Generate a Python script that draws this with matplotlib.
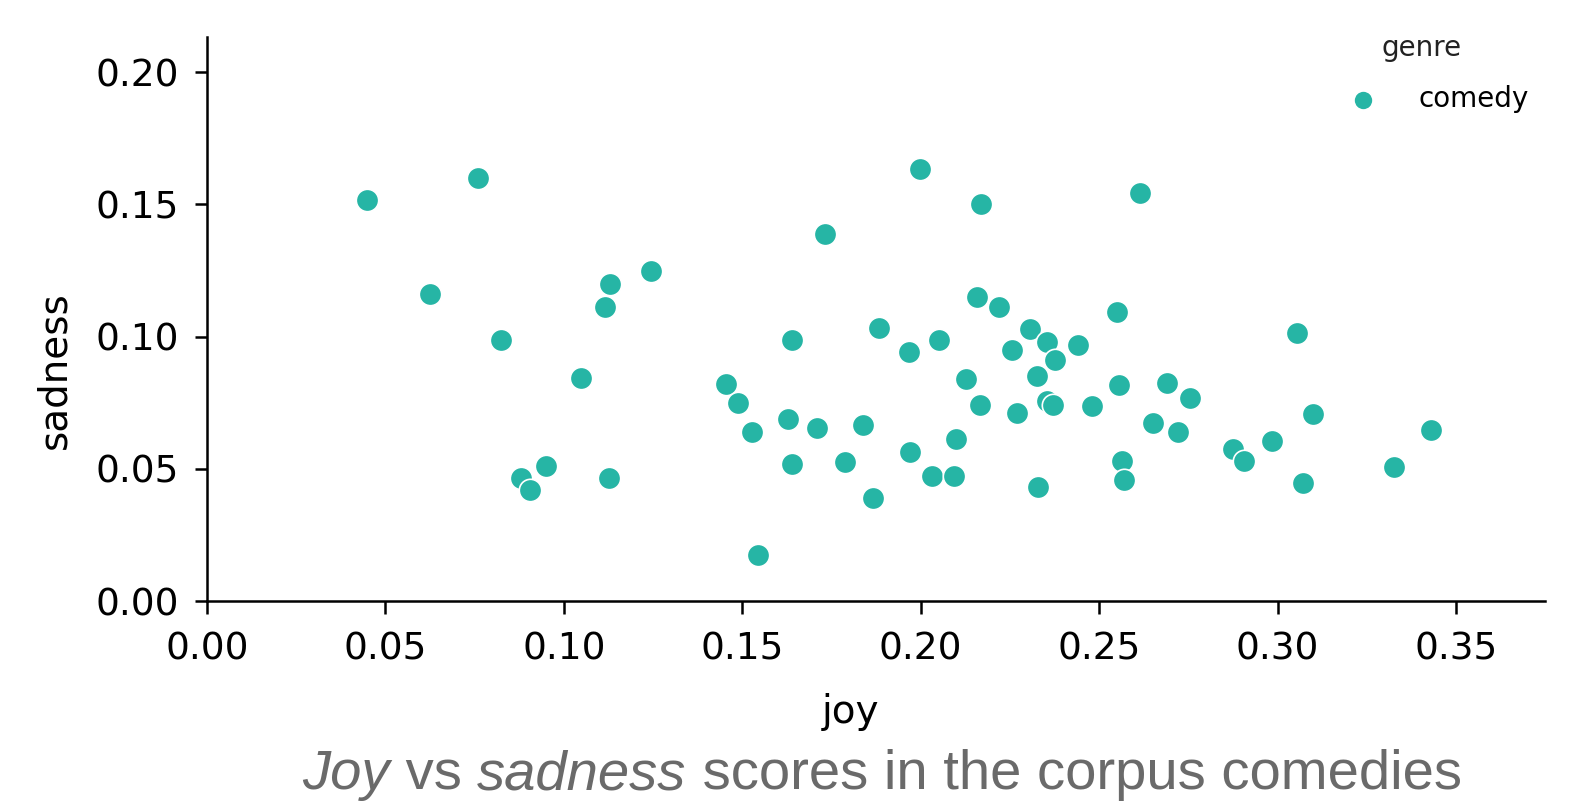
import matplotlib
matplotlib.use("Agg")
import matplotlib.pyplot as plt
import numpy as np

joy = [0.0449, 0.0760, 0.0625, 0.0824, 0.1130, 0.1116, 0.1245, 0.1049, 0.0881, 0.0906,
       0.0951, 0.1127, 0.1453, 0.1489, 0.1528, 0.1545, 0.1629, 0.1638, 0.1638, 0.1733,
       0.1708, 0.1789, 0.1837, 0.1865, 0.1882, 0.1966, 0.1971, 0.1997, 0.2033, 0.2050,
       0.2092, 0.2098, 0.2128, 0.2168, 0.2159, 0.2165, 0.2218, 0.2257, 0.2271, 0.2305,
       0.2325, 0.2330, 0.2353, 0.2375, 0.2353, 0.2370, 0.2440, 0.2479, 0.2549, 0.2555,
       0.2563, 0.2569, 0.2614, 0.2650, 0.2689, 0.2720, 0.2754, 0.2874, 0.2905, 0.2984,
       0.3054, 0.3099, 0.3071, 0.3326, 0.3430]
sadness = [0.1517, 0.1600, 0.1162, 0.0987, 0.1199, 0.1112, 0.1249, 0.0844, 0.0465, 0.0420,
           0.0511, 0.0465, 0.0821, 0.0749, 0.0639, 0.0174, 0.0689, 0.0987, 0.0518, 0.1389,
           0.0655, 0.0526, 0.0666, 0.0390, 0.1033, 0.0942, 0.0564, 0.1635, 0.0473, 0.0987,
           0.0473, 0.0613, 0.0840, 0.1502, 0.1150, 0.0742, 0.1112, 0.0950, 0.0711, 0.1029,
           0.0851, 0.0431, 0.0980, 0.0912, 0.0757, 0.0742, 0.0969, 0.0738, 0.1093, 0.0817,
           0.0530, 0.0458, 0.1544, 0.0673, 0.0825, 0.0639, 0.0768, 0.0575, 0.0530, 0.0605,
           0.1014, 0.0708, 0.0446, 0.0507, 0.0647]
genre_label = "comedy"
legend_title = "genre"
xticks = [0.00, 0.05, 0.10, 0.15, 0.20, 0.25, 0.30, 0.35]
yticks = [0.00, 0.05, 0.10, 0.15, 0.20]
caption_parts = [("Joy", "italic"), (" vs ", "normal"), ("sadness", "italic"),
                 (" scores in the corpus comedies", "normal")]

color = "#26b5a5"

W, H = 1580, 802
fig = plt.figure(figsize=(W / 100, H / 100), dpi=100)
ax = fig.add_axes([0.131, 0.2506, 0.847, 0.7035])

ax.scatter(joy, sadness, s=260, color=color, edgecolor="white", linewidth=1.2,
           label=genre_label, zorder=3)

ax.set_xlim(0, 0.375)
ax.set_ylim(0, 0.2134)
ax.set_xticks(xticks)
ax.set_yticks(yticks)
ax.set_xticklabels([f"{v:.2f}" for v in xticks])
ax.set_yticklabels([f"{v:.2f}" for v in yticks])
for s in ["top", "right"]:
    ax.spines[s].set_visible(False)
for s in ["left", "bottom"]:
    ax.spines[s].set_linewidth(1.8)
ax.tick_params(axis="both", which="major", labelsize=27, length=9, width=1.8, pad=11)
ax.tick_params(axis="x", pad=13)
ax.set_xlabel("joy", fontsize=28)
ax.set_ylabel("sadness", fontsize=28)
ax.xaxis.set_label_coords(0.4806, -0.163)
ax.yaxis.set_label_coords(-0.10, 0.41)

# legend (no frame), marker centred near (1363, 99) px
fs_leg = 20
fpx = fs_leg * 100 / 72
anchor_x = (1363 - 0.4 * fpx - 1.0 * fpx) / W
anchor_y = (H - 99) / H
leg = ax.legend(loc="center left", bbox_to_anchor=(anchor_x, anchor_y),
                bbox_transform=fig.transFigure, borderaxespad=0, frameon=False,
                fontsize=fs_leg, markerscale=0.85, handletextpad=1.0)
fig.text(1422 / W, (H - 48) / H, legend_title, fontsize=fs_leg, ha="center",
         va="center", color="#222222")

# caption with mixed italic
fig.canvas.draw()
renderer = fig.canvas.get_renderer()
texts = []
for t, st in caption_parts:
    tx = fig.text(0, (H - 789) / H, t, fontsize=40.5, style=st, color="#6a6a6a",
                  family="Liberation Sans", ha="left", va="baseline")
    texts.append(tx)
fig.canvas.draw()
widths = [tx.get_window_extent(renderer).width for tx in texts]
total = sum(widths)
cur = 882 - total / 2
for tx, w in zip(texts, widths):
    tx.set_x(cur / W)
    cur += w

fig.savefig("out.png", dpi=100)
